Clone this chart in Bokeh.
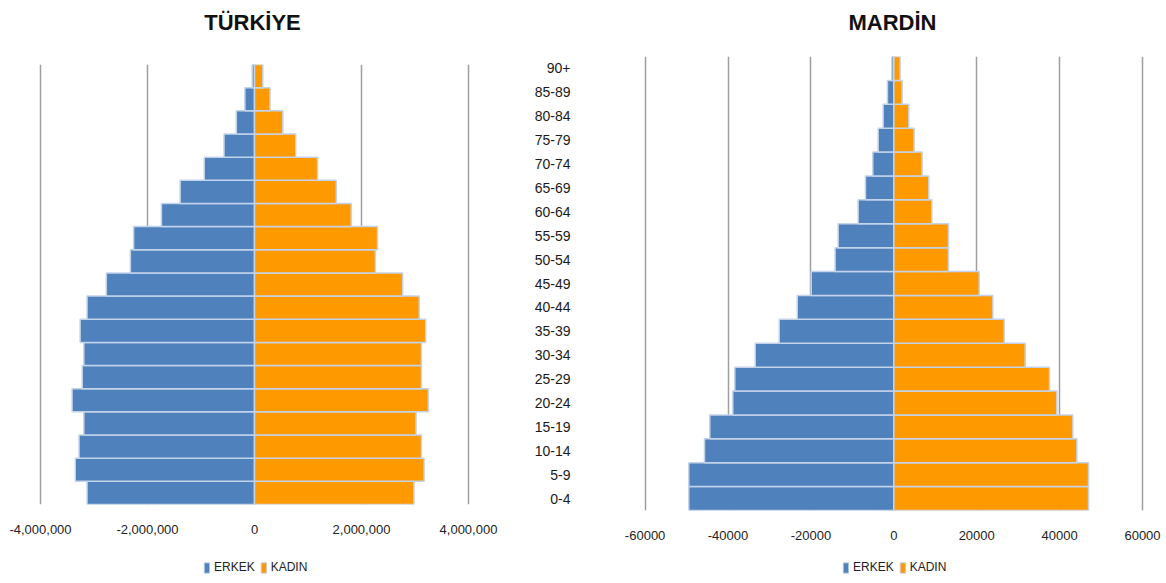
from bokeh.plotting import figure
from bokeh.models import Range1d, FactorRange, FixedTicker, NumeralTickFormatter, Legend, LegendItem, Label
from bokeh.layouts import row, column
from bokeh.embed import file_html
from bokeh.resources import INLINE

ages = ["0-4", "5-9", "10-14", "15-19", "20-24", "25-29", "30-34", "35-39", "40-44",
        "45-49", "50-54", "55-59", "60-64", "65-69", "70-74", "75-79", "80-84", "85-89", "90+"]

tr_erkek = [-3130000, -3350000, -3280000, -3190000, -3410000, -3220000, -3190000, -3260000, -3130000,
            -2770000, -2320000, -2260000, -1740000, -1390000, -940000, -570000, -340000, -180000, -44000]
tr_kadin = [2980000, 3170000, 3120000, 3020000, 3250000, 3120000, 3120000, 3200000, 3080000,
            2770000, 2260000, 2300000, 1810000, 1530000, 1180000, 770000, 530000, 290000, 156000]

md_erkek = [-49460, -49460, -45670, -44390, -38840, -38360, -33440, -27650, -23300,
            -19930, -14160, -13430, -8610, -6840, -5070, -3780, -2570, -1530, -480]
md_kadin = [46980, 46980, 44170, 43200, 39340, 37570, 31700, 26630, 23900,
            20600, 13190, 13190, 9170, 8450, 6840, 4900, 3620, 2010, 1530]

tr_ticks = [-4000000, -2000000, 0, 2000000, 4000000]
md_ticks = [-60000, -40000, -20000, 0, 20000, 40000, 60000]

titles = ["TÜRKİYE", "MARDİN"]
series_names = ["ERKEK", "KADIN"]

BLUE = "#4F81BD"
ORANGE = "#FF9900"
EDGE = "#c3d3ea"
GRID = "#9f9f9f"
FONT = "Liberation Sans"

W, H = 1166, 583
HEAD_H, FOOT_H = 46, 38
MAIN_H = H - HEAD_H - FOOT_H


def bare(width, height):
    p = figure(width=width, height=height, x_range=Range1d(0, width), y_range=Range1d(0, height),
               x_axis_type=None, y_axis_type=None, output_backend="svg", toolbar_location=None,
               min_border=0, min_border_left=0, min_border_right=0, min_border_top=0, min_border_bottom=0)
    p.frame_align = False
    p.outline_line_color = None
    p.grid.visible = False
    return p


# header with the two titles
head = bare(W, HEAD_H)
for txt, cx in zip(titles, [252, 892]):
    head.add_layout(Label(x=cx, y=HEAD_H - 21.5, text=txt, text_align="center", text_baseline="middle",
                          text_font=FONT, text_font_size="22px", text_font_style="bold", text_color="#111111"))


def make(erkek, kadin, ticks, fmt, width, mb_left, mb_right, mb_top, xr, show_y, tick_standoff, frame_h):
    p = figure(width=width, height=MAIN_H, y_range=FactorRange(factors=ages, range_padding=0), x_range=xr,
               output_backend="svg", toolbar_location=None,
               min_border_left=mb_left, min_border_right=mb_right,
               min_border_top=mb_top, min_border_bottom=MAIN_H - mb_top - frame_h)
    p.frame_align = False
    p.outline_line_color = None
    p.background_fill_color = "white"
    p.hbar(y=ages, left=erkek, right=0, height=1.0, fill_color=BLUE, line_color=EDGE, line_width=1.5)
    p.hbar(y=ages, left=0, right=kadin, height=1.0, fill_color=ORANGE, line_color=EDGE, line_width=1.5)
    p.ygrid.grid_line_color = None
    p.xgrid.grid_line_color = GRID
    p.xgrid.grid_line_width = 1.5
    p.xaxis.ticker = FixedTicker(ticks=ticks)
    p.xaxis.formatter = NumeralTickFormatter(format=fmt)
    p.xaxis.axis_line_color = None
    p.xaxis.major_tick_line_color = None
    p.xaxis.minor_tick_line_color = None
    p.xaxis.major_label_text_font = FONT
    p.xaxis.major_label_text_font_size = "13px"
    p.xaxis.major_label_text_color = "#222222"
    p.xaxis.major_label_standoff = tick_standoff
    p.yaxis.axis_line_color = None
    p.yaxis.major_tick_line_color = None
    p.yaxis.major_label_text_font = FONT
    p.yaxis.major_label_text_font_size = "14px"
    p.yaxis.major_label_text_color = "#1a1a1a"
    p.yaxis.major_label_standoff = 44
    p.yaxis.visible = show_y
    return p


p1 = make(tr_erkek, tr_kadin, tr_ticks, "0,0", 520, 36, 48, 64 - HEAD_H,
          Range1d(-4075000, 4075000), False, 14, 440)
p2 = make(md_erkek, md_kadin, md_ticks, "0", W - 520, 100, 6, 56 - HEAD_H,
          Range1d(-65935, 64342), True, 14, 454)

# footer with the two legends (legend proxies are zero-size, outside the visible range)
foot = bare(W, FOOT_H)
for lx in [203, 842]:
    ra = foot.hbar(y=[-100], left=[0], right=[0], height=1.0, fill_color=BLUE, line_color=EDGE)
    rb = foot.hbar(y=[-100], left=[0], right=[0], height=1.0, fill_color=ORANGE, line_color=EDGE)
    lg = Legend(items=[LegendItem(label=series_names[0], renderers=[ra]),
                       LegendItem(label=series_names[1], renderers=[rb])],
                orientation="horizontal", location=(lx, 9),
                glyph_width=7, glyph_height=13, label_standoff=4, spacing=5,
                label_text_font=FONT, label_text_font_size="12px", label_text_color="#222222",
                label_height=13, label_width=10,
                border_line_color=None, background_fill_alpha=0, padding=0, margin=0)
    foot.add_layout(lg, "center")

layout = column(head, row(p1, p2), foot)
open("out.html", "w").write(file_html(layout, INLINE))
